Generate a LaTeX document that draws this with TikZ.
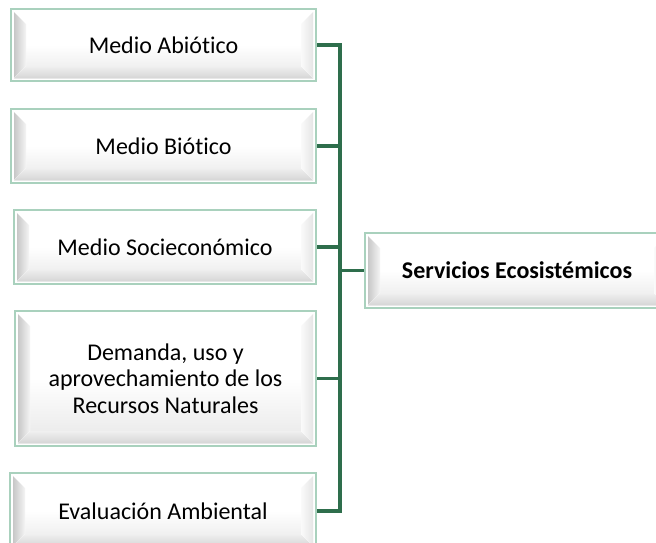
\documentclass[tikz,border=0pt]{standalone}
\usepackage{fontspec}
\setmainfont{Carlito}[Ligatures=NoCommon]
\usetikzlibrary{calc}
\definecolor{trunkgreen}{HTML}{2E6E4C}
\definecolor{boxline}{HTML}{A9D1BD}
\tikzset{
  bevelbox/.style={
    draw=boxline, line width=2pt, fill=white, inner sep=0pt,
    align=center, text=black,
    font=\fontsize{24}{26.5}\selectfont,
    path picture={
      \coordinate (nw) at ($(path picture bounding box.north west)+(3pt,-3pt)$);
      \coordinate (ne) at ($(path picture bounding box.north east)+(-3pt,-3pt)$);
      \coordinate (sw) at ($(path picture bounding box.south west)+(3pt,3pt)$);
      \coordinate (se) at ($(path picture bounding box.south east)+(-3pt,3pt)$);
      \fill[top color=white, bottom color=black!9, middle color=white] (nw) rectangle (se);
      \fill[white] (nw) -- (ne) -- ($(ne)+(-10pt,-10pt)$) -- ($(nw)+(10pt,-10pt)$) -- cycle;
      \fill[left color=black!22, right color=black!4] (nw) -- ($(nw)+(12pt,-12pt)$) -- ($(sw)+(12pt,12pt)$) -- (sw) -- cycle;
      \fill[top color=black!6, bottom color=black!16] (sw) -- (se) -- ($(se)+(-12pt,12pt)$) -- ($(sw)+(12pt,12pt)$) -- cycle;
      \fill[left color=black!2, right color=black!10] (ne) -- (se) -- ($(se)+(-12pt,12pt)$) -- ($(ne)+(-12pt,-12pt)$) -- cycle;
    }
  },
  link/.style={draw=trunkgreen, line width=3.6pt}
}
\begin{document}
\begin{tikzpicture}[x=1pt,y=-1pt]
\useasboundingbox (0,0) rectangle (656,542);
\clip (0,0) rectangle (656,542);
\node[bevelbox, minimum width=305pt, minimum height=72pt] (b1) at (163.5,45) {Medio Abiótico};
\node[bevelbox, minimum width=305pt, minimum height=74pt] (b2) at (163.5,146) {Medio Biótico};
\node[bevelbox, minimum width=302pt, minimum height=74pt] (b3) at (165,247) {Medio Socieconómico};
\node[bevelbox, minimum width=301pt, minimum height=135pt] (b4) at (165.5,378.5) {Demanda, uso y\\aprovechamiento de los\\Recursos Naturales};
\node[bevelbox, minimum width=306pt, minimum height=76pt] (b5) at (163,511) {Evaluación Ambiental};
\node[bevelbox, minimum width=304pt, minimum height=75pt, font=\fontsize{24}{26.5}\selectfont\bfseries] (s) at (517,270.5) {Servicios Ecosistémicos};
\coordinate (trunk) at (340,0);
\draw[link, line join=miter] (b1.east) -- (b1.east -| trunk) -- (b5.east -| trunk) -- (b5.east);
\draw[link] (b2.east) -- (b2.east -| trunk);
\draw[link] (b3.east) -- (b3.east -| trunk);
\draw[link] (b4.east) -- (b4.east -| trunk);
\draw[link] (s.west) -- (s.west -| trunk);
\end{tikzpicture}
\end{document}
